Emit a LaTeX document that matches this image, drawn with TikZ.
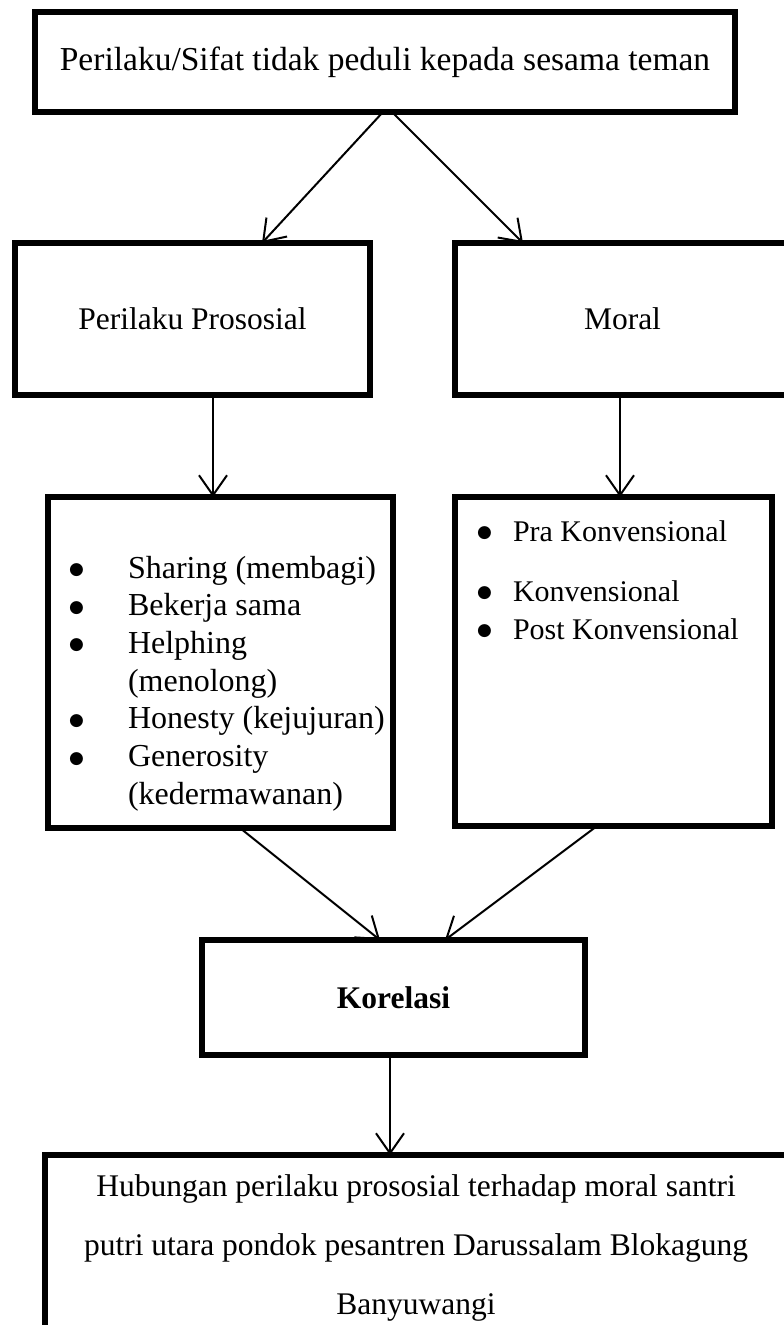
\documentclass[tikz,border=0pt]{standalone}
\usepackage{fontspec}
\setmainfont{Liberation Serif}
\newfontfamily\dejavu{DejaVu Sans}
\usetikzlibrary{arrows.meta}
\newcommand{\dotglyph}{\hspace{-3pt}\raisebox{3.5pt}{\dejavu\fontsize{17}{17}\selectfont ●}}
\newcommand{\bltL}{\makebox[56pt][l]{\dotglyph}}
\newcommand{\bltR}{\makebox[33pt][l]{\dotglyph}}
\begin{document}
\begin{tikzpicture}[x=1pt,y=-1pt,
  box/.style={draw=black,line width=5.5pt,rectangle,inner sep=0pt,outer sep=0pt,fill=white},
  txt/.style={inner sep=0pt,outer sep=0pt},
  ltxt/.style={txt,anchor=base west,font=\fontsize{32}{38}\selectfont},
  rtxt/.style={txt,anchor=base west,font=\fontsize{30}{36}\selectfont},
  arr/.style={line width=2pt,-{Straight Barb[length=20pt,width=28pt]}},
  every node/.style={font=\fontsize{31.5}{37.7}\selectfont}]
\useasboundingbox[fill=white] (0,0) rectangle (784,1325);
% boxes
\node[box,minimum width=700pt,minimum height=100pt] (top) at (385,62)
  {\fontsize{33.5}{40}\selectfont Perilaku/Sifat tidak peduli kepada sesama teman};
\node[box,minimum width=355pt,minimum height=152pt] (pp) at (192.5,319) {Perilaku Prososial};
\node[box,minimum width=335pt,minimum height=152pt] (moral) at (622.5,319) {Moral};
\node[box,minimum width=345pt,minimum height=331pt] (left) at (220.5,662.5) {};
\node[box,minimum width=317pt,minimum height=329pt] (right) at (613.5,661.5) {};
\node[box,minimum width=383pt,minimum height=115pt] (kor) at (393.5,997.5) {\bfseries Korelasi};
\node[box,minimum width=745pt,minimum height=185pt] (bot) at (417.5,1247.5) {};
% list texts
\node[ltxt] (l1) at (72,578) {\bltL Sharing (membagi)};
\node[ltxt] (l2) at (72,615.7) {\bltL Bekerja sama};
\node[ltxt] (l3) at (72,653.4) {\bltL Helphing};
\node[ltxt] (l4) at (72,691.1) {\makebox[56pt]{}(menolong)};
\node[ltxt] (l5) at (72,728.8) {\bltL Honesty (kejujuran)};
\node[ltxt] (l6) at (72,766.5) {\bltL Generosity};
\node[ltxt] (l7) at (72,804.2) {\makebox[56pt]{}(kedermawanan)};
\node[rtxt] (r1) at (480,541) {\bltR Pra Konvensional};
\node[rtxt] (r2) at (480,601) {\bltR Konvensional};
\node[rtxt] (r3) at (480,639) {\bltR Post Konvensional};
% bottom text
\node[txt,anchor=base] (b1) at (416,1196) {Hubungan perilaku prososial terhadap moral santri};
\node[txt,anchor=base] (b2) at (416,1255) {putri utara pondok pesantren Darussalam Blokagung};
\node[txt,anchor=base] (b3) at (416,1314) {Banyuwangi};
% arrows
\draw[arr] ([xshift=-2pt]top.south) -- ([xshift=69.5pt]pp.north);
\draw[arr] ([xshift=7pt]top.south) -- ([xshift=68pt]moral.north west);
\draw[arr] ([xshift=20.5pt]pp.south) -- ([xshift=-7.5pt]left.north);
\draw[arr] ([xshift=-2.5pt]moral.south) -- ([xshift=6.5pt]right.north);
\draw[arr] ([xshift=19.5pt]left.south) -- ([xshift=-13.5pt]kor.north);
\draw[arr] ([xshift=-16.5pt]right.south) -- ([xshift=51.5pt]kor.north);
\draw[arr] ([xshift=-3.5pt]kor.south) -- ([xshift=-27.5pt]bot.north);
\end{tikzpicture}
\end{document}
